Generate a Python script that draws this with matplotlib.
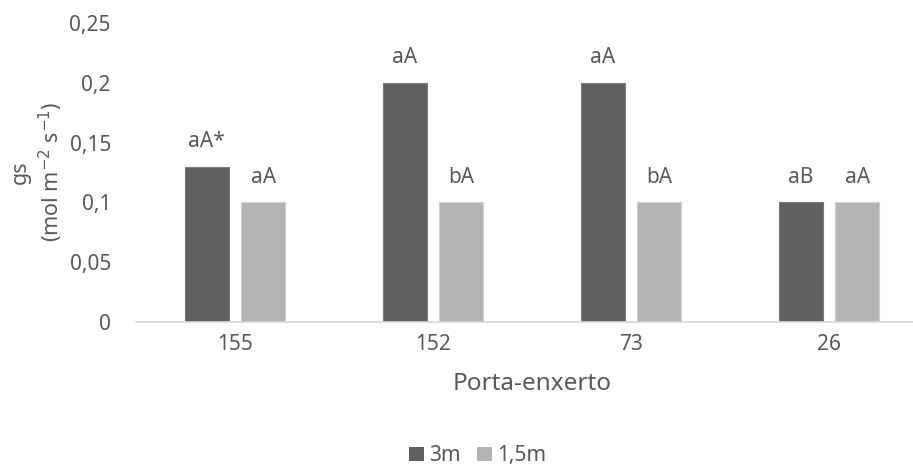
import numpy as np
import matplotlib.pyplot as plt
from matplotlib.patches import Patch

plt.rcParams['font.family'] = ['Noto Sans', 'DejaVu Sans']

# data
rootstocks = ['155', '152', '73', '26']
gs_3m = [0.13, 0.20, 0.20, 0.10]
gs_15m = [0.10, 0.10, 0.10, 0.10]
letters_3m = ['aA*', 'aA', 'aA', 'aB']
letters_15m = ['aA', 'bA', 'bA', 'aA']
yticks = [0, 0.05, 0.1, 0.15, 0.2, 0.25]
ytick_labels = ['0', '0,05', '0,1', '0,15', '0,2', '0,25']

txt = '#595959'
dark = '#606060'
light = '#b3b3b3'

fig = plt.figure(figsize=(9.13, 4.70), dpi=100)
# axes runs past right edge like the original export
ax = fig.add_axes([136 / 913, 0.315, (928 - 136) / 913, 0.951 - 0.315])

x = np.arange(len(rootstocks))
w = 0.225
off = w / 2 + 0.03
b1 = ax.bar(x - off, gs_3m, w, color=dark, edgecolor='#7a7a7a', linewidth=0.8)
b2 = ax.bar(x + off, gs_15m, w, color=light, edgecolor='#d0d0d0', linewidth=0.8)

# letters above bars
for bars, labs in [(b1, letters_3m), (b2, letters_15m)]:
    for r, lab in zip(bars, labs):
        ax.annotate(lab, (r.get_x() + r.get_width() / 2, r.get_height()),
                    xytext=(0, 18), textcoords='offset points',
                    ha='center', va='center', fontsize=15, color=txt)

ax.set_xlim(-0.5, len(rootstocks) - 0.5)
ax.set_ylim(0, 0.25)
ax.set_xticks(x)
ax.set_xticklabels(rootstocks)
ax.set_yticks(yticks)
ax.set_yticklabels(ytick_labels)
ax.tick_params(axis='both', length=0, labelsize=15, colors=txt)
ax.tick_params(axis='y', pad=18)
ax.tick_params(axis='x', pad=9)

for s in ['top', 'right', 'left']:
    ax.spines[s].set_visible(False)
ax.spines['bottom'].set_color('#d9d9d9')
ax.spines['bottom'].set_linewidth(1.2)

ax.set_xlabel('Porta-enxerto', fontsize=17.5, color=txt, labelpad=12)
fig.text(0.041, 0.634, 'gs\n(mol m$^{-2}$ s$^{-1}$)', rotation=90, ha='center',
         va='center', fontsize=15.5, color=txt, multialignment='center',
         linespacing=1.25)

handles = [Patch(facecolor=dark, label='3m'), Patch(facecolor=light, label='1,5m')]
fig.legend(handles=handles, loc='center', bbox_to_anchor=(0.523, 0.03), ncol=2,
           frameon=False, fontsize=15, labelcolor=txt, handlelength=0.7,
           handleheight=0.7, handletextpad=0.25, columnspacing=0.8,
           borderpad=0)

fig.savefig('out.png', dpi=100)
